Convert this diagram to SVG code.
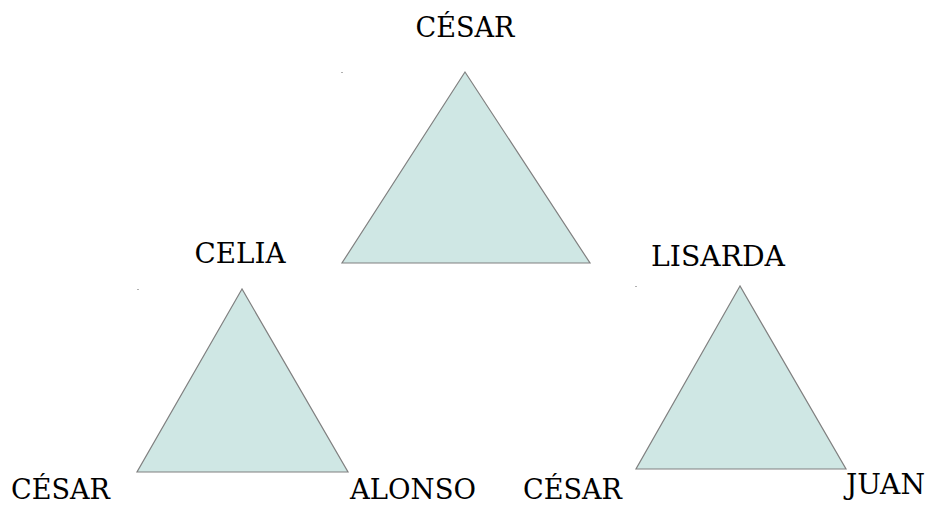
<svg xmlns="http://www.w3.org/2000/svg" width="929" height="506" viewBox="0 0 929 506">
<style>
.tri{fill:#cfe7e4;stroke:#808080;stroke-width:1.2;stroke-linejoin:miter}
.dot{fill:#b0b0b0}
.lbl{font-family:"DejaVu Serif",serif;font-size:27px;fill:#000}
</style>
<rect width="929" height="506" fill="#fff"/>
<g id="top">
<rect class="dot" x="341" y="72" width="2" height="1"/>
<polygon class="tri" points="465,72 342,263 590,263"/>
<text class="lbl" x="465" y="37" text-anchor="middle" textLength="99" lengthAdjust="spacingAndGlyphs">CÉSAR</text>
</g>
<g id="left">
<rect class="dot" x="137" y="289" width="2" height="1"/>
<polygon class="tri" points="242,289 137,472 348,472"/>
<text class="lbl" x="240" y="263" text-anchor="middle" textLength="91" lengthAdjust="spacingAndGlyphs">CELIA</text>
<text class="lbl" x="11" y="499" textLength="99" lengthAdjust="spacingAndGlyphs">CÉSAR</text>
<text class="lbl" x="350" y="499" textLength="126" lengthAdjust="spacingAndGlyphs">ALONSO</text>
</g>
<g id="right">
<rect class="dot" x="635" y="286" width="2" height="1"/>
<polygon class="tri" points="740,286 636,469 846,469"/>
<text class="lbl" x="718" y="266" text-anchor="middle" textLength="134" lengthAdjust="spacingAndGlyphs">LISARDA</text>
<text class="lbl" x="523" y="499" textLength="99" lengthAdjust="spacingAndGlyphs">CÉSAR</text>
<text class="lbl" x="846" y="494" textLength="79" lengthAdjust="spacingAndGlyphs">JUAN</text>
</g>
<g id="connectors"></g>
</svg>
